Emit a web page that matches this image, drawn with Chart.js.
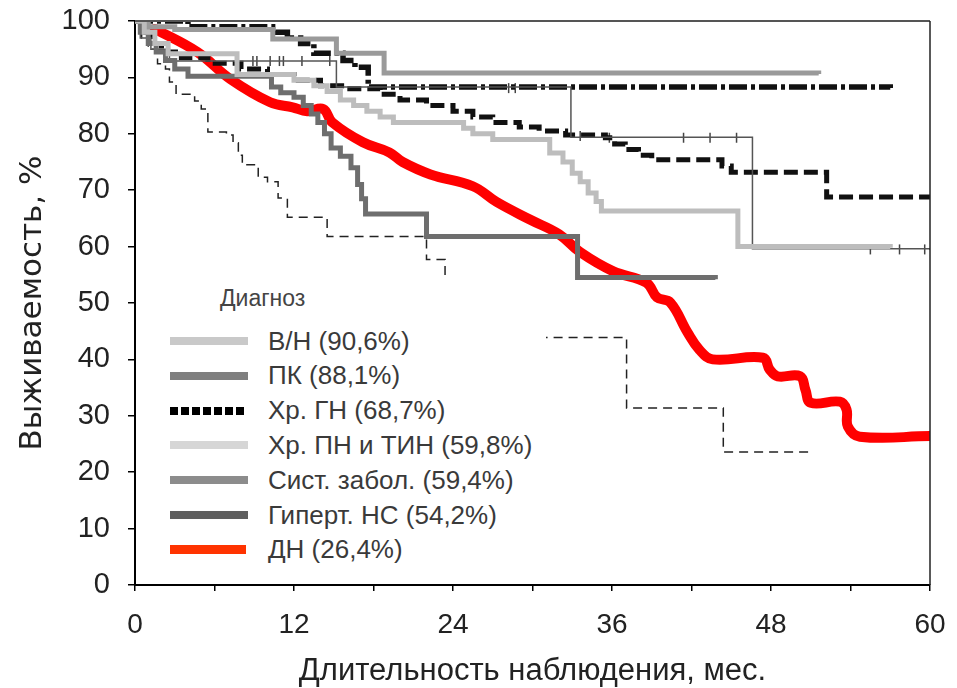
<!DOCTYPE html>
<html lang="ru">
<head>
<meta charset="utf-8">
<title>Выживаемость по диагнозам</title>
<script src="https://cdn.jsdelivr.net/npm/chart.js@4.4.1/dist/chart.umd.min.js"></script>
<style>
  html, body { margin: 0; padding: 0; background: #fff; }
  #wrap { position: relative; width: 957px; height: 688px; }
  #chart { position: absolute; left: 0; top: 0; }
  #legend {
    position: absolute; left: 160px; top: 276px; width: 386px; height: 292px;
    background: #fff; font-family: 'Liberation Sans', Arial, sans-serif; color: #3a3a3a;
  }
  #legend .ttl { position: absolute; left: 60px; top: 8px; font-size: 23px; line-height: 28px; color: #444; }
  #legend .row { position: absolute; left: 10px; height: 34px; display: flex; align-items: center; white-space: nowrap; }
  #legend .sw { width: 78px; height: 8px; margin-right: 20px; }
  #legend .lbl { font-size: 26px; }
</style>
</head>
<body>
<div id="wrap">
  <canvas id="chart" width="957" height="688"></canvas>
  <div id="legend"><div class="ttl">Диагноз</div></div>
</div>
<script>
// Kaplan-Meier curves: [month, survival %], value changes at that month
const vn = [[0,100],[1,99],[3,98.5],[10.4,96.8],[15.2,94.3],[18.8,90.8],[51.6,90.6]];
const pk = [[0,100],[4,99],[10.6,98],[11.5,97],[12.5,96],[13.5,94.3],[15.7,93],[16.6,91.8],[17.6,88.3],[57,88.1]];
const hrGn = [[0,100],[0.5,98],[1.2,96],[2,94.5],[3.5,93.5],[5.5,92.5],[8,91.5],[10,90.5],[12,89.5],[14,88.5],
  [16,88],[18.5,87],[20,86],[22,85],[24,84],[25.5,83],[27,82],[29,81.2],[30.5,80.5],[32.5,79.8],[35.5,79.3],
  [36.2,78.2],[37,77.2],[38,76.2],[39,75.4],[44.3,74.3],[45,73.2],[52.2,68.8],[60,68.7]];
const hrPn = [[0,100],[0.7,98],[1.5,96],[2.5,94.2],[7.7,90.5],[12,89.5],[13.5,88.5],[14.5,87.5],[15.5,86],[16.5,85],
  [17.5,84],[18.5,83],[19.5,82],[24.8,81],[25.5,80],[27,79],[31.3,76.6],[32.3,75],[33,73],[33.6,71.5],[34.2,69.5],
  [34.8,68],[35.2,66.3],[45.5,60],[57,59.8]];
const sist = [[0,100],[0.4,97],[1.2,95],[2.6,92.9],[15.2,88.3],[32.9,79.4],[46.6,59.6],[60,59.4]];
const gipert = [[0,100],[0.4,98],[1,96],[1.6,94.5],[2.3,93],[3,91.5],[4,90.2],[10.3,88.3],[11,87.3],[12,86.5],
  [12.7,85],[13.3,83.5],[13.8,82],[14.3,80],[14.8,77.5],[15.5,76],[16.3,74],[16.8,71],[17.1,68.5],[17.4,65.8],
  [22,61.8],[33.4,54.5],[43.8,54.2]];
const thinDashed = [[0,100],[0.5,97],[1,95],[1.7,92.4],[2.3,91.5],[2.6,89.2],[3.1,87],[4.5,85.8],[5,84.4],[5.5,80.3],
  [6.9,79.8],[7.4,78.4],[7.8,76.2],[8.1,74.5],[9.3,72.3],[10,71.5],[10.8,68.6],[11.5,65.2],[14.5,61.8],[22,57.7],
  [23.4,54.5],[26,50],[29,43.9],[37.1,31.4],[44.4,23.6],[51.1,23.5]];
// smoothed DN curve
const dn = [[1.5,98.6],[4.7,94.5],[7.2,89.7],[10.2,85.6],[11.9,84.7],[13,84],[14.2,84.4],[14.9,82],[17.2,78.5],
  [19.2,76.7],[20.2,75],[22.3,72.8],[25.5,70.7],[27.3,67.9],[29.8,64.8],[32,62.2],[33.6,59],[36.1,55.6],[38.6,53.6],
  [39.4,51],[40.4,50.1],[41.7,44.8],[42.6,41.7],[43.6,40],[47.4,40.3],[47.9,38.2],[48.5,37],[50.2,37],[50.6,34.6],
  [51,32.3],[53.2,32.5],[53.7,31.1],[53.8,28.1],[54.7,26.3],[60,26.4]];
// censored observations
const censorX = [7.7,8.9,9.2,10.2,10.9,11.2,12.6,14.7,28.2,28.7,33.6,35.8,41.4,43.4,45.4,55.5,57.7,59.6];
const censorY = [92.9,92.9,92.9,92.9,92.9,92.9,92.9,92.9,88.1,88.1,79.6,79.3,79.3,79.3,79.3,59.5,59.5,59.5];

const xTicks = [0,6,12,18,24,30,36,42,48,54,60];
const xLabeled = [0,12,24,36,48,60];
const yTicks = [0,10,20,30,40,50,60,70,80,90,100];

const legendLabels = ['В/Н (90,6%)','ПК (88,1%)','Хр. ГН (68,7%)','Хр. ПН и ТИН (59,8%)',
  'Сист. забол. (59,4%)','Гиперт. НС (54,2%)','ДН (26,4%)'];
const legendSwatches = ['#c9c9c9','#7f7f7f','dots','#d6d6d6','#8c8c8c','#5f5f5f','#ff3300'];

const pts = arr => arr.map(([x, y]) => ({ x, y }));

function stepLine(data, color, width, dash) {
  return {
    data: pts(data), borderColor: color, borderWidth: width, borderDash: dash || [],
    stepped: 'before', pointRadius: 0, fill: false
  };
}

const datasets = [
  stepLine(hrPn, '#bdbdbd', 5),
  stepLine(vn, '#9a9a9a', 5),
  stepLine(gipert, '#6e6e6e', 5),
  stepLine(sist, '#555', 1.5),
  stepLine(thinDashed, '#222', 1.5, [9, 6]),
  stepLine(hrGn, '#111', 5, [14, 6]),
  stepLine(pk, '#111', 5.5, [18, 4, 4, 4]),
  {
    type: 'scatter', data: censorX.map((x, i) => ({ x, y: censorY[i] })),
    showLine: false, pointStyle: 'line', rotation: 90, pointRadius: 5,
    borderColor: '#444', borderWidth: 1.5
  },
  {
    data: pts(dn), borderColor: '#ff0000', borderWidth: 10, tension: 0.4,
    borderCapStyle: 'round', borderJoinStyle: 'round', pointRadius: 0, fill: false
  }
];

// top and right sides of the plot box
const framePlugin = {
  id: 'frame',
  afterDatasetsDraw(chart) {
    const { ctx, chartArea: a } = chart;
    ctx.save();
    ctx.strokeStyle = '#555';
    ctx.lineWidth = 2;
    ctx.beginPath(); ctx.moveTo(a.left, a.top); ctx.lineTo(a.right, a.top); ctx.stroke();
    ctx.strokeStyle = '#222';
    ctx.lineWidth = 1.5;
    ctx.beginPath(); ctx.moveTo(a.right, a.top); ctx.lineTo(a.right, a.bottom); ctx.stroke();
    ctx.restore();
  }
};

new Chart(document.getElementById('chart'), {
  type: 'line',
  data: { datasets },
  options: {
    responsive: false,
    animation: false,
    layout: { padding: { top: 21, right: 27, left: 0, bottom: 0 } },
    plugins: { legend: { display: false }, tooltip: { enabled: false } },
    scales: {
      x: {
        type: 'linear', min: 0, max: 60,
        afterBuildTicks: s => { s.ticks = xTicks.map(v => ({ value: v })); },
        // fixed axis height; no extra room for the end labels
        afterFit: s => { s.height = 103; s.paddingLeft = 0; s.paddingRight = 0; },
        ticks: {
          autoSkip: false, maxRotation: 0, padding: 17, color: '#222',
          font: { family: 'Liberation Sans', size: 28 },
          callback: v => xLabeled.includes(v) ? String(v) : ''
        },
        grid: { drawOnChartArea: false, drawTicks: true, tickLength: 6, color: '#000', lineWidth: 1.5 },
        border: { display: true, color: '#000', width: 2 },
        title: {
          display: true, text: 'Длительность наблюдения, мес.', color: '#222',
          font: { family: 'Liberation Sans', size: 31 }, padding: { top: 0, bottom: -2 }
        }
      },
      y: {
        min: 0, max: 100,
        afterBuildTicks: s => { s.ticks = yTicks.map(v => ({ value: v })); },
        afterFit: s => { s.width = 135; s.paddingTop = 0; s.paddingBottom = 0; },
        ticks: {
          autoSkip: false, padding: 18, color: '#222',
          font: { family: 'Liberation Sans', size: 29 }
        },
        grid: { drawOnChartArea: false, drawTicks: true, tickLength: 7, color: '#000', lineWidth: 1.5 },
        border: { display: true, color: '#000', width: 2 },
        title: {
          display: true, text: 'Выживаемость, %', color: '#222',
          font: { family: 'DejaVu Sans', size: 31 }, padding: { top: 14, bottom: 0 }
        }
      }
    }
  },
  plugins: [framePlugin]
});

// legend box over the lower-left of the plot
const legendBox = document.getElementById('legend');
legendLabels.forEach((text, i) => {
  const row = document.createElement('div');
  row.className = 'row';
  row.style.top = (48 + i * 34.8) + 'px';
  const sw = document.createElement('div');
  sw.className = 'sw';
  const s = legendSwatches[i];
  if (s === 'dots') {
    sw.style.width = '74px';
    sw.style.marginRight = '24px';
    sw.style.background = 'repeating-linear-gradient(90deg, #000 0 8px, transparent 8px 11px)';
  } else {
    sw.style.background = s;
    if (i === legendLabels.length - 1) { sw.style.height = '9px'; sw.style.width = '76px'; sw.style.marginRight = '22px'; }
  }
  const lbl = document.createElement('span');
  lbl.className = 'lbl';
  lbl.textContent = text;
  row.appendChild(sw);
  row.appendChild(lbl);
  legendBox.appendChild(row);
});
</script>
</body>
</html>
